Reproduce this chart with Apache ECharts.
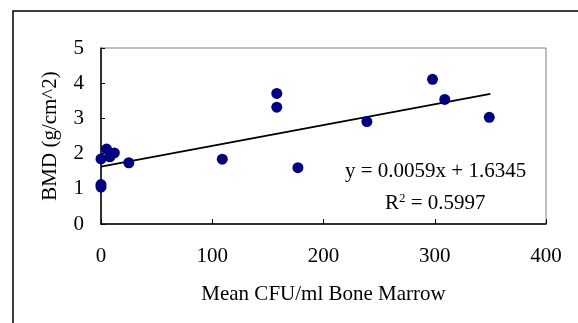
<!DOCTYPE html>
<html>
<head>
<meta charset="utf-8">
<script src="https://cdn.jsdelivr.net/npm/echarts@6/dist/echarts.min.js"></script>
<style>
  html, body { margin: 0; padding: 0; background: #fff; }
  #chart { width: 578px; height: 323px; }
</style>
</head>
<body>
<div id="chart"></div>
<script>
// mean CFU/ml vs BMD
const cfu = [0, 0, 0, 5, 8, 12, 25, 109, 158, 158, 177, 239, 298, 309, 349];
const bmd = [1.05, 1.12, 1.85, 2.13, 1.91, 2.02, 1.74, 1.84, 3.71, 3.32, 1.6, 2.91, 4.11, 3.54, 3.03];
// linear trend line ends
const trendX = [0, 350];
const trendY = [1.63, 3.7];
const xTicks = [0, 100, 200, 300, 400];
const yTicks = [0, 1, 2, 3, 4, 5];

const font = 'Liberation Serif';
const chart = echarts.init(document.getElementById('chart'));

const points = cfu.map((x, i) => [x, bmd[i]]);
const trend = trendX.map((x, i) => [x, trendY[i]]);

chart.setOption({
  animation: false,
  grid: {
    left: 101,
    top: 48,
    right: 32,
    bottom: 99,
    show: true,
    borderColor: '#808080',
    borderWidth: 1,
  },
  xAxis: {
    type: 'value',
    min: xTicks[0],
    max: xTicks[xTicks.length - 1],
    interval: 100,
    name: 'Mean CFU/ml Bone Marrow',
    nameLocation: 'middle',
    nameGap: 60,
    nameTextStyle: { fontFamily: font, fontSize: 21, color: '#000' },
    axisLine: { lineStyle: { color: '#000', width: 1.5 } },
    axisTick: { inside: true, length: 5, lineStyle: { color: '#000' } },
    axisLabel: { fontFamily: font, fontSize: 21, color: '#000', margin: 22 },
    splitLine: { show: false },
  },
  yAxis: {
    type: 'value',
    min: yTicks[0],
    max: yTicks[yTicks.length - 1],
    interval: 1,
    name: 'BMD (g/cm^2)',
    nameLocation: 'middle',
    nameGap: 40,
    nameTextStyle: { fontFamily: font, fontSize: 21, color: '#000' },
    axisLine: { lineStyle: { color: '#000', width: 1.5 } },
    axisTick: { inside: true, length: 4, lineStyle: { color: '#000' } },
    axisLabel: { fontFamily: font, fontSize: 21, color: '#000', margin: 17 },
    splitLine: { show: false },
  },
  series: [
    {
      type: 'line',
      data: trend,
      symbol: 'none',
      lineStyle: { color: '#000', width: 1.8 },
      z: 2,
    },
    {
      type: 'scatter',
      data: points,
      symbol: 'circle',
      symbolSize: 11,
      itemStyle: { color: '#000080', opacity: 1 },
      z: 3,
    },
  ],
  graphic: [
    {
      type: 'rect',
      shape: { x: 13, y: 11, width: 700, height: 500 },
      style: { fill: 'none', stroke: '#000', lineWidth: 1.5 },
      silent: true,
    },
    {
      type: 'text',
      left: 345,
      top: 161,
      style: {
        text: 'y = 0.0059x + 1.6345',
        font: '21px "Liberation Serif"',
        fill: '#000',
      },
    },
    {
      type: 'text',
      left: 385,
      top: 192,
      style: {
        text: 'R{s|2} = 0.5997',
        font: '21px "Liberation Serif"',
        fill: '#000',
        rich: {
          s: { fontFamily: font, fontSize: 13, verticalAlign: 'top', padding: [0, 0, 10, 0] },
        },
      },
    },
  ],
});
</script>
</body>
</html>
